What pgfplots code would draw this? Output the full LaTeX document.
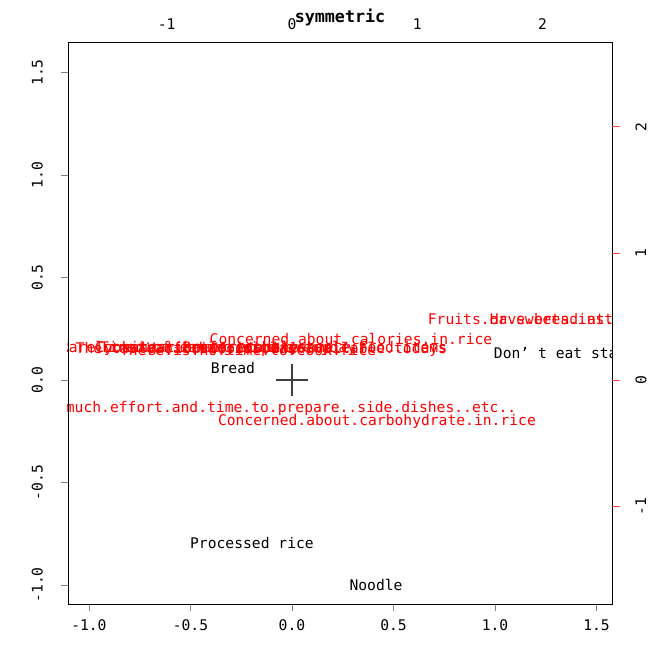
\documentclass[border=0pt]{standalone}
\usepackage{pgfplots}
\pgfplotsset{compat=1.18}
\usepackage{fontspec}
\setmainfont{DejaVu Sans Mono}

\pgfplotsset{
  lbl/.style={draw=none, mark=none, nodes near coords, point meta=explicit symbolic,
    nodes near coords style={anchor=center, inner sep=0pt, font=\fontsize{11pt}{13pt}\selectfont}},
  frame/.style={scale only axis, width=408pt, height=421.5pt, at={(0,0)}, anchor=south west},
}

\begin{document}
\begin{tikzpicture}
\path[use as bounding box] (-51pt,-32.25pt) rectangle (439.5pt,453pt);

% labels, clipped to the plot region
\begin{scope}
\clip (0,0) rectangle (408pt,421.5pt);
% row coordinates (bottom / left scale)
\begin{axis}[frame, hide axis,
  xmin=-1.103, xmax=1.576, ymin=-1.093, ymax=1.649]
\addplot[only marks, mark=+, mark size=12pt, mark options={draw=darkgray, line width=0.8pt}]
  coordinates {(0,0)};
\addplot[lbl, nodes near coords style={text=black}] coordinates {
  (-0.291,0.059) [Bread]
  (-0.197,-0.795) [Processed rice]
  (0.414,-1.000) [Noodle]
  (1.473,0.127) [Don’ t eat staple food]
};
\end{axis}
% column coordinates (top / right scale)
\begin{axis}[frame, hide axis,
  xmin=-1.788, xmax=2.554, ymin=-1.768, ymax=2.668]
\addplot[lbl, nodes near coords style={text=red}] coordinates {
  (-0.90,0.25) [Rarely.eat.at.home.recently]
  (-0.81,0.245) [The.taste.of.rice.is.plain]
  (-0.62,0.25) [Cooking.rice.is.troublesome]
  (-0.51,0.25) [Tired.of.eating.rice.everyday]
  (-0.35,0.24) [There.is.no.time.to.cook.rice]
  (0.04,0.245) [Various.foods.are.available.todays]
  (0.18,0.25) [Prefer.other.staple.food.items]
  (0.471,0.324) [Concerned.about.calories.in.rice]
  (0.678,-0.331) [Concerned.about.carbohydrate.in.rice]
  (-0.36,-0.221) [Takes.too.much.effort.and.time.to.prepare..side.dishes..etc..]
  (1.93,0.481) [Fruits.or.sweets.instead]
  (2.39,0.481) [Have.bread.at.breakfast]
};
\end{axis}
\end{scope}

% box, bottom and left scale
\begin{axis}[frame,
  xmin=-1.103, xmax=1.576, ymin=-1.093, ymax=1.649,
  xtick={-1,-0.5,0,0.5,1,1.5}, ytick={-1,-0.5,0,0.5,1,1.5},
  xtick pos=left, ytick pos=left,
  tick align=outside, major tick length=5.25pt,
  tick label style={font=\fontsize{11pt}{13pt}\selectfont},
  xticklabel shift=3pt, yticklabel shift=10pt,
  /pgf/number format/assume math mode=true,
  /pgf/number format/.cd, fixed, fixed zerofill, precision=1, /pgfplots/.cd,
  yticklabel style={rotate=90, anchor=south},
]
\addplot[draw=none] coordinates {(0,0)};
\end{axis}

% top and right scale
\begin{axis}[frame,
  xmin=-1.788, xmax=2.554, ymin=-1.768, ymax=2.668,
  axis line style={draw=none},
  xtick={-1,0,1,2}, ytick={-1,0,1,2},
  xtick pos=right, ytick pos=right,
  xticklabel pos=right, yticklabel pos=right,
  tick align=outside, major tick length=6pt,
  xtick style={draw=none}, ytick style={draw=red!70, line width=0.6pt},
  tick label style={font=\fontsize{11pt}{13pt}\selectfont},
  yticklabel shift=8pt,
  /pgf/number format/assume math mode=true,
  yticklabel style={rotate=90, anchor=north},
]
\addplot[draw=none] coordinates {(0,0)};
\end{axis}

\node[font=\bfseries\fontsize{12.5pt}{14pt}\selectfont] at (204pt,440.25pt) {symmetric};
\end{tikzpicture}
\end{document}
